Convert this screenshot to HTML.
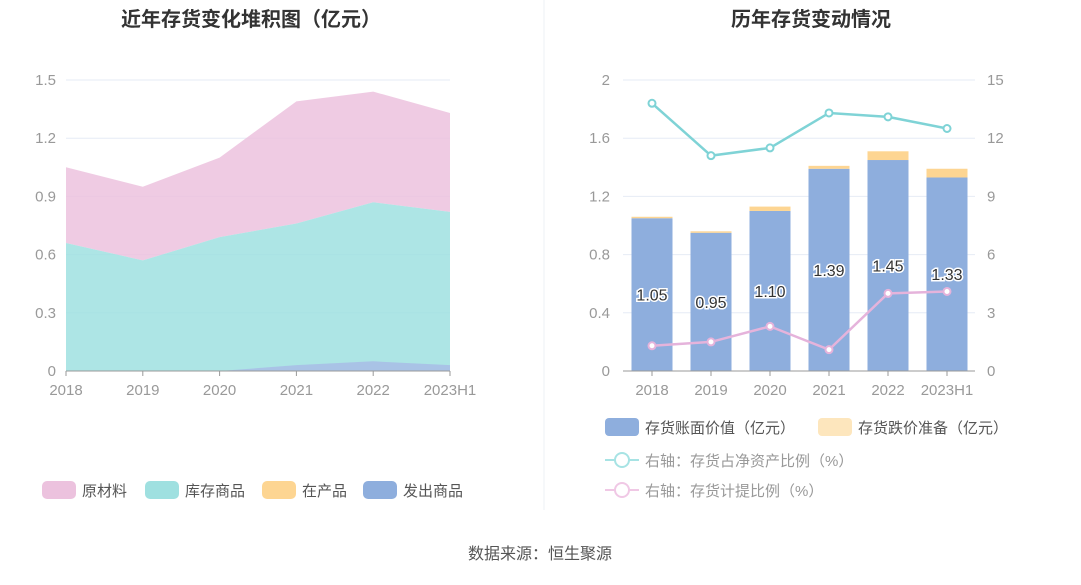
<!DOCTYPE html>
<html><head><meta charset="utf-8"><style>
body{margin:0;background:#fff;font-family:"Liberation Sans","Noto Sans CJK SC",sans-serif;}
svg text{font-family:"Liberation Sans","Noto Sans CJK SC",sans-serif;}
</style></head><body>
<svg id="s" width="1081" height="580" xmlns="http://www.w3.org/2000/svg">
<line x1="544" y1="0" x2="544" y2="510" stroke="#eef0f4" stroke-width="1"/>
<text x="251" y="26" text-anchor="middle" font-size="20" font-weight="bold" fill="#333">近年存货变化堆积图（亿元）</text>
<text x="811" y="26" text-anchor="middle" font-size="20" font-weight="bold" fill="#333">历年存货变动情况</text>
<text x="540" y="559" text-anchor="middle" font-size="16" fill="#555">数据来源：恒生聚源</text>
<g id="L"></g><g id="R"></g>
</svg>
<script>
const cats=['2018','2019','2020','2021','2022','2023H1'];
const leftTicks=[0,0.3,0.6,0.9,1.2,1.5];
const faxing=[0,0,0,0.03,0.05,0.03];
const zaichan=[0,0,0,0,0,0];
const kucun=[0.66,0.57,0.69,0.73,0.82,0.79];
const yuancailiao=[0.39,0.38,0.41,0.63,0.57,0.51];
const bookValue=[1.05,0.95,1.10,1.39,1.45,1.33];
const reserve=[0.01,0.01,0.03,0.02,0.06,0.06];
const ratioNet=[13.8,11.1,11.5,13.3,13.1,12.5];
const ratioProv=[1.3,1.5,2.3,1.1,4.0,4.1];
const rLeftTicks=[0,0.4,0.8,1.2,1.6,2];
const rRightTicks=[0,3,6,9,12,15];
const NS='http://www.w3.org/2000/svg';
function mk(p,t,a){const e=document.createElementNS(NS,t);for(const k in a)e.setAttribute(k,a[k]);p.appendChild(e);return e;}
const Y0=371,Y1=80;
// LEFT
const L=document.getElementById('L');
const lx=i=>66+i*(450-66)/5, ly=v=>Y0-(v/1.5)*(Y0-Y1);
leftTicks.forEach(t=>{const g=mk(L,'line',{x1:66,x2:450,y1:ly(t),y2:ly(t),stroke:'#e6ebf5'});
const tx=mk(L,'text',{x:56,y:ly(t)+5,'text-anchor':'end','font-size':15,fill:'#999'});tx.textContent=t;});
const series=[[faxing,'#8eaedd'],[zaichan,'#fdd592'],[kucun,'#9fe0e0'],[yuancailiao,'#ecc2de']];
const base=cats.map(()=>0);
const order=[2,1,0,3];
const stacks=[];let acc=cats.map(()=>0);
// stacking: kucun bottom-ish container, faxing drawn over it, then yuancailiao on top
const tealTop=cats.map((c,i)=>faxing[i]+zaichan[i]+kucun[i]);
const total=cats.map((c,i)=>tealTop[i]+yuancailiao[i]);
function area(lo,hi,col,name){let d='M'+cats.map((c,i)=>lx(i)+','+ly(hi[i])).join(' L');for(let i=cats.length-1;i>=0;i--)d+=' L'+lx(i)+','+ly(lo[i]);const p=mk(L,'path',{d:d+'Z',fill:col,opacity:0.85});}
area(tealTop,total,'#ecc2de','area-yuancailiao');
area(base,tealTop,'#9fe0e0','area-kucun');
area(base,faxing,'#a8bde6','area-faxing');
const ax=mk(L,'line',{x1:66,x2:450,y1:Y0,y2:Y0,stroke:'#999'});
cats.forEach((c,i)=>{mk(L,'line',{x1:lx(i),x2:lx(i),y1:Y0,y2:Y0+5,stroke:'#999'});const t=mk(L,'text',{x:lx(i),y:395,'text-anchor':'middle','font-size':15,fill:'#999'});t.textContent=c;});
[['原材料','#ecc2de',42],['库存商品','#9fe0e0',145],['在产品','#fdd592',262],['发出商品','#8eaedd',363]].forEach(([n,c,x])=>{const g=mk(L,'g',{});mk(g,'rect',{x:x,y:481,width:34,height:18,rx:5,fill:c});const t=mk(g,'text',{x:x+40,y:496,'font-size':15,fill:'#555'});t.textContent=n;});
// RIGHT
const R=document.getElementById('R');
const rx=i=>652+i*59, ryl=v=>Y0-(v/2)*(Y0-Y1), ryr=v=>Y0-(v/15)*(Y0-Y1);
rLeftTicks.forEach((t,k)=>{const g=mk(R,'line',{x1:623,x2:975,y1:ryl(t),y2:ryl(t),stroke:'#e6ebf5'});
const a=mk(R,'text',{x:610,y:ryl(t)+5,'text-anchor':'end','font-size':15,fill:'#999'});a.textContent=t;
const b=mk(R,'text',{x:987,y:ryr(rRightTicks[k])+5,'font-size':15,fill:'#999'});b.textContent=rRightTicks[k];});
cats.forEach((c,i)=>{const b=mk(R,'rect',{x:rx(i)-20.5,y:ryl(bookValue[i]),width:41,height:Y0-ryl(bookValue[i]),fill:'#8eaedd'});
const r=mk(R,'rect',{x:rx(i)-20.5,y:ryl(bookValue[i]+reserve[i]),width:41,height:ryl(bookValue[i])-ryl(bookValue[i]+reserve[i]),fill:'#fdd592'});});
const ax2=mk(R,'line',{x1:623,x2:975,y1:Y0,y2:Y0,stroke:'#999'});
cats.forEach((c,i)=>{mk(R,'line',{x1:rx(i),x2:rx(i),y1:Y0,y2:Y0+5,stroke:'#999'});const t=mk(R,'text',{x:rx(i),y:395,'text-anchor':'middle','font-size':15,fill:'#999'});t.textContent=c;
const l=mk(R,'text',{x:rx(i),y:ryl(bookValue[i]/2)+6,'text-anchor':'middle','font-size':16,fill:'#333',stroke:'#fff','stroke-width':3,'paint-order':'stroke'});l.textContent=bookValue[i].toFixed(2);});
function line(vals,col,name){const p=mk(R,'polyline',{points:vals.map((v,i)=>rx(i)+','+ryr(v)).join(' '),fill:'none',stroke:col,'stroke-width':2.5});
vals.forEach((v,i)=>{const c=mk(R,'circle',{cx:rx(i),cy:ryr(v),r:3.5,fill:'#fff',stroke:col,'stroke-width':2});});}
line(ratioNet,'#7fd3d6','line-net-asset-ratio');
line(ratioProv,'#e5b3db','line-provision-ratio');
[[605,427,'#8eaedd','存货账面价值（亿元）'],[818,427,'#fde6bd','存货跌价准备（亿元）']].forEach(([x,y,c,n])=>{const g=mk(R,'g',{});mk(g,'rect',{x:x,y:y-9,width:34,height:18,rx:4,fill:c});const t=mk(g,'text',{x:x+40,y:y+6,'font-size':15,fill:'#555'});t.textContent=n;});
[[460,'#a7e3e4','右轴：存货占净资产比例（%）'],[490,'#f0c8e5','右轴：存货计提比例（%）']].forEach(([y,c,n])=>{const g=mk(R,'g',{});mk(g,'line',{x1:605,x2:639,y1:y,y2:y,stroke:c,'stroke-width':2});mk(g,'circle',{cx:622,cy:y,r:7,fill:'#fff',stroke:c,'stroke-width':2});const t=mk(g,'text',{x:645,y:y+6,'font-size':15,fill:'#999'});t.textContent=n;});
</script>
</body></html>
